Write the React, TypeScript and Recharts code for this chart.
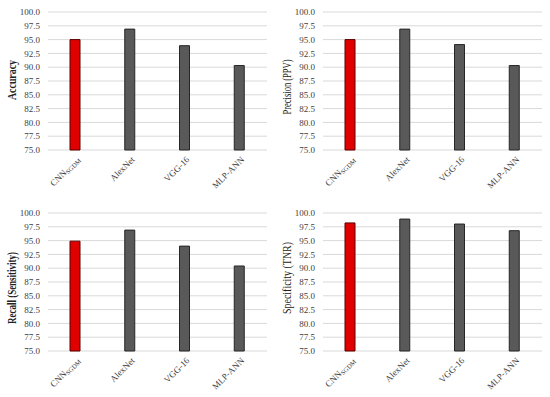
import { Bar, BarChart, CartesianGrid, Cell, XAxis, YAxis } from "recharts";

const models = ["CNNSGDM", "AlexNet", "VGG-16", "MLP-ANN"];
const accuracy = [95.0, 96.9, 93.9, 90.3];
const precision = [95.0, 96.9, 94.1, 90.3];
const recall = [94.9, 96.9, 94.0, 90.4];
const specificity = [98.2, 98.9, 98.0, 96.8];
const yTicks = [75, 77.5, 80, 82.5, 85, 87.5, 90, 92.5, 95, 97.5, 100];

const FONT = '"Liberation Serif", "Times New Roman", serif';

function XTick(props: any) {
    const { x, y, payload } = props;
    const v: string = payload.value;
    return (
        <g transform={`translate(${x + 3},${y})`}>
            <g transform="rotate(-45)">
                <text x={0} y={0} textAnchor="end" dy={3} fontSize={9} fill="#404040" fontFamily={FONT}>
                    {v === "CNNSGDM" ? (
                        <>
                            CNN<tspan fontSize={6.5} dy={1.5}>SGDM</tspan>
                        </>
                    ) : v}
                </text>
            </g>
        </g>
    );
}

function YLabel(props: any) {
    const { text, len, bold, shift, viewBox } = props;
    const cy = viewBox.y + viewBox.height / 2 + shift;
    return (
        <text
            x={12}
            y={cy}
            transform={`rotate(-90, 12, ${cy})`}
            textAnchor="middle"
            dominantBaseline="central"
            fontSize={12}
            fontWeight={bold ? "bold" : "normal"}
            fill="#222"
            fontFamily={FONT}
            textLength={len}
            lengthAdjust="spacingAndGlyphs"
        >
            {text}
        </text>
    );
}

type PanelProps = { values: number[]; title: string; len: number; bold?: boolean; shift: number };

function Panel({ values, title, len, bold, shift }: PanelProps) {
    const data = models.map((name, i) => ({ name, value: values[i] }));
    return (
        <BarChart width={275} height={198} data={data} margin={{ top: 12, right: 8, bottom: 0, left: 0 }}>
            <CartesianGrid vertical={false} stroke="#d9d9d9" />
            <XAxis dataKey="name" axisLine={false} tickLine={false} interval={0} height={48} tick={<XTick />} />
            <YAxis
                type="number"
                domain={[75, 100]}
                ticks={yTicks}
                interval={0}
                width={48}
                axisLine={false}
                tickLine={false}
                tickFormatter={(v: number) => v.toFixed(1)}
                tick={{ fontSize: 9, fill: "#404040", fontFamily: FONT }}
                label={<YLabel text={title} len={len} bold={bold} shift={shift} />}
            />
            <Bar dataKey="value" barSize={10} isAnimationActive={false} strokeWidth={1}>
                {data.map((_, i) => (
                    <Cell key={`cell-${i}`} fill={i === 0 ? "#e00000" : "#595959"} stroke={i === 0 ? "#5a0000" : "#262626"} />
                ))}
            </Bar>
        </BarChart>
    );
}

export default function App() {
    return (
        <div style={{ position: "absolute", left: 0, top: 0, width: 550, height: 397, background: "#fff" }}>
            <div style={{ position: "absolute", left: 0, top: 0 }}>
                <Panel values={accuracy} title="Accuracy" len={40} bold shift={-1} />
            </div>
            <div style={{ position: "absolute", left: 275, top: 0 }}>
                <Panel values={precision} title="Precision (PPV)" len={55} shift={6} />
            </div>
            <div style={{ position: "absolute", left: 0, top: 201 }}>
                <Panel values={recall} title="Recall (Sensitivity)" len={72} bold shift={6} />
            </div>
            <div style={{ position: "absolute", left: 275, top: 201 }}>
                <Panel values={specificity} title="Specificity (TNR)" len={72} shift={-4} />
            </div>
        </div>
    );
}
